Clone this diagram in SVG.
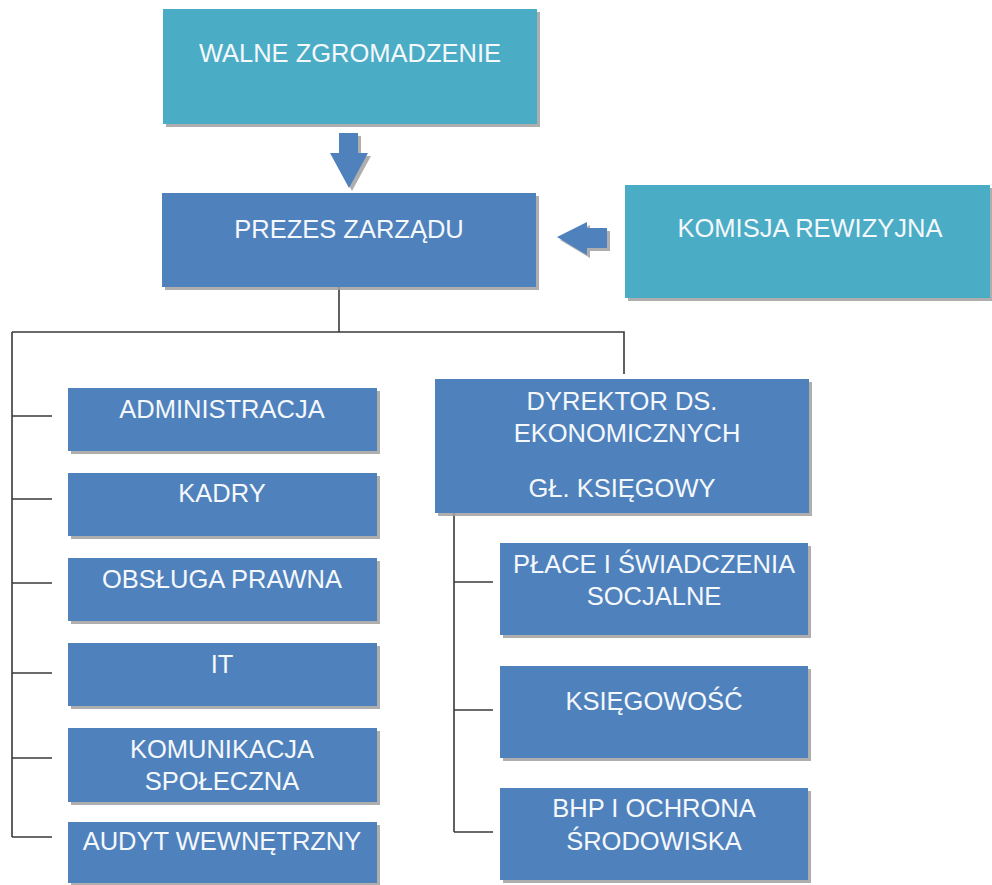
<svg xmlns="http://www.w3.org/2000/svg" width="992" height="885" viewBox="0 0 992 885">
<style>
.sh{fill:#a0a0a0;opacity:0.85}
.cy{fill:#4BACC6}
.bl{fill:#4F81BD}
.t{font-family:"Liberation Sans",Arial,sans-serif;font-size:25.5px;fill:#F5F8FB;text-anchor:middle}
.ln{stroke:#3a3a3a;stroke-width:1.6;fill:none}
</style>
<rect width="992" height="885" fill="#ffffff"/>
<g id="connectors">
<path class="ln" d="M339,287 V332 M12,332 H624 V374 M12,332 V837 M12,416 H52 M12,499 H52 M12,583 H52 M12,673 H52 M12,758 H52 M12,837 H52"/>
<path class="ln" d="M454,513 V832 M454,582 H493 M454,710 H493 M454,832 H493"/>
<g id="arrow-down">
<polygon class="sh" points="342,136 361,136 361,156 371,156 352,191 333,156 342,156"/>
<polygon class="bl" points="339,133 358,133 358,153 368,153 349,188 330,153 339,153"/>
</g>
<g id="arrow-left">
<polygon class="sh" points="560,240 590,225 590,231 610,231 610,251 590,251 590,258"/>
<polygon class="bl" points="557,237 587,222 587,228 607,228 607,248 587,248 587,255"/>
</g>
</g>
<g id="walne">
<rect class="sh" x="166" y="12" width="374" height="115"/>
<rect class="cy" x="163" y="9" width="374" height="115"/>
<text class="t" x="350" y="62">WALNE ZGROMADZENIE</text>
</g>
<g id="prezes">
<rect class="sh" x="165" y="196" width="374" height="94"/>
<rect class="bl" x="162" y="193" width="374" height="94"/>
<text class="t" x="349" y="238">PREZES ZARZĄDU</text>
</g>
<g id="komisja">
<rect class="sh" x="628" y="188" width="364" height="113"/>
<rect class="cy" x="625" y="185" width="365" height="113"/>
<text class="t" x="810" y="237">KOMISJA REWIZYJNA</text>
</g>
<g id="administracja">
<rect class="sh" x="71" y="391" width="309" height="63"/>
<rect class="bl" x="68" y="388" width="309" height="63"/>
<text class="t" x="222" y="418">ADMINISTRACJA</text>
</g>
<g id="kadry">
<rect class="sh" x="71" y="476" width="309" height="63"/>
<rect class="bl" x="68" y="473" width="309" height="63"/>
<text class="t" x="222" y="502">KADRY</text>
</g>
<g id="obsluga">
<rect class="sh" x="71" y="561" width="309" height="63"/>
<rect class="bl" x="68" y="558" width="309" height="63"/>
<text class="t" x="222" y="588">OBSŁUGA PRAWNA</text>
</g>
<g id="it">
<rect class="sh" x="71" y="646" width="309" height="63"/>
<rect class="bl" x="68" y="643" width="309" height="63"/>
<text class="t" x="222" y="673">IT</text>
</g>
<g id="komunikacja">
<rect class="sh" x="71" y="731" width="309" height="74"/>
<rect class="bl" x="68" y="728" width="309" height="74"/>
<text class="t" x="222" y="758">KOMUNIKACJA</text>
<text class="t" x="222" y="790">SPOŁECZNA</text>
</g>
<g id="audyt">
<rect class="sh" x="71" y="825" width="309" height="63"/>
<rect class="bl" x="68" y="822" width="309" height="61"/>
<text class="t" x="222" y="850">AUDYT WEWNĘTRZNY</text>
</g>
<g id="dyrektor">
<rect class="sh" x="438" y="382" width="374" height="134"/>
<rect class="bl" x="435" y="379" width="374" height="134"/>
<text class="t" x="622" y="410">DYREKTOR DS.</text>
<text class="t" x="627" y="442">EKONOMICZNYCH</text>
<text class="t" x="622" y="497">GŁ. KSIĘGOWY</text>
</g>
<g id="place">
<rect class="sh" x="503" y="546" width="308" height="92"/>
<rect class="bl" x="500" y="543" width="308" height="92"/>
<text class="t" x="654" y="573">PŁACE I ŚWIADCZENIA</text>
<text class="t" x="654" y="605">SOCJALNE</text>
</g>
<g id="ksiegowosc">
<rect class="sh" x="503" y="669" width="308" height="92"/>
<rect class="bl" x="500" y="666" width="308" height="92"/>
<text class="t" x="654" y="710">KSIĘGOWOŚĆ</text>
</g>
<g id="bhp">
<rect class="sh" x="503" y="791" width="308" height="92"/>
<rect class="bl" x="500" y="788" width="308" height="92"/>
<text class="t" x="654" y="817">BHP I OCHRONA</text>
<text class="t" x="654" y="850">ŚRODOWISKA</text>
</g>
</svg>
